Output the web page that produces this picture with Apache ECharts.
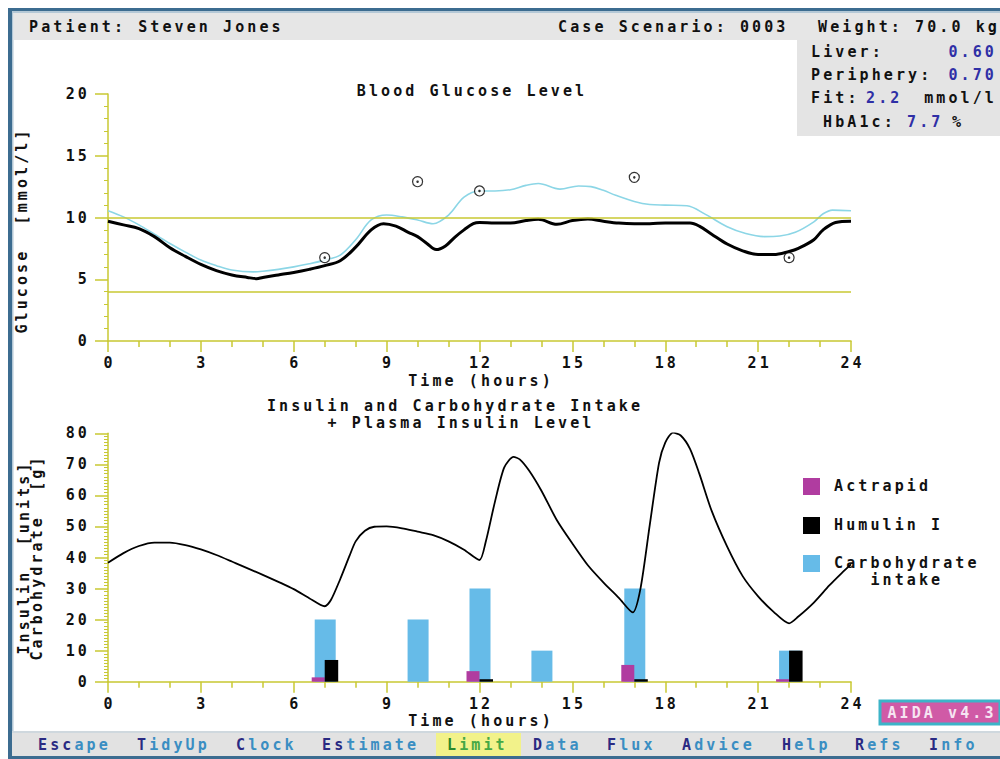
<!DOCTYPE html>
<html>
<head>
<meta charset="utf-8">
<title>AIDA v4.3 – Blood Glucose and Insulin</title>
<style>
  html, body { margin: 0; padding: 0; background: #ffffff; }
  #chart { width: 1000px; height: 759px; }
  /* wide, evenly spaced terminal-style lettering */
  #chart svg text { letter-spacing: 3.1px; white-space: pre; }
</style>
<script src="https://cdn.jsdelivr.net/npm/echarts@6.0.0/dist/echarts.min.js"></script>
</head>
<body>
<div id="chart"></div>
<script>
// ---- Blood glucose (mmol/l) over 24 hours ----
const simHours = [0, 0.5, 1, 1.5, 2, 2.5, 3, 3.5, 4, 4.5, 4.8, 5, 5.5, 6, 6.5, 7, 7.5, 8, 8.5, 8.9, 9.3, 9.7, 10, 10.3, 10.6, 10.9, 11.2, 11.5, 11.8, 12, 12.5, 13, 13.5, 13.9, 14.5, 15, 15.5, 16, 16.5, 17, 17.5, 18, 18.8, 19.1, 19.5, 20, 20.5, 21, 21.5, 22, 22.3, 22.8, 23.1, 23.5, 24];
const simGlucose = [9.7, 9.4, 9.1, 8.45, 7.55, 6.85, 6.2, 5.7, 5.35, 5.15, 5.05, 5.15, 5.35, 5.55, 5.8, 6.1, 6.5, 7.6, 9.0, 9.5, 9.3, 8.8, 8.45, 7.9, 7.4, 7.7, 8.4, 9.0, 9.5, 9.6, 9.55, 9.55, 9.75, 9.85, 9.45, 9.75, 9.88, 9.7, 9.55, 9.5, 9.5, 9.55, 9.55, 9.3, 8.65, 7.85, 7.3, 7.0, 7.0, 7.25, 7.5, 8.2, 9.0, 9.6, 9.7];

const fitHours = [0, 0.5, 1, 1.5, 2, 2.5, 3, 3.5, 4, 4.7, 5, 5.5, 6, 6.5, 7, 7.5, 8, 8.5, 9, 9.5, 10, 10.5, 11, 11.5, 12, 12.5, 13, 13.5, 13.9, 14.6, 15.2, 15.6, 16, 16.4, 17, 17.5, 18, 18.7, 19.3, 20, 20.6, 21.2, 21.7, 22.2, 22.8, 23.1, 23.4, 24];
const fitGlucose = [10.55, 10.05, 9.4, 8.65, 7.9, 7.2, 6.55, 6.1, 5.75, 5.6, 5.65, 5.8, 6.0, 6.25, 6.55, 6.95, 8.2, 9.8, 10.2, 10.05, 9.8, 9.5, 10.2, 11.65, 12.15, 12.15, 12.25, 12.6, 12.75, 12.3, 12.55, 12.5, 12.2, 11.8, 11.3, 11.05, 11.0, 10.95, 10.25, 9.25, 8.7, 8.45, 8.5, 8.8, 9.65, 10.3, 10.6, 10.55];

const readingHours = [7, 10, 12, 17, 22];
const readingGlucose = [6.75, 12.9, 12.15, 13.25, 6.75];

const glucoseLimits = [4, 10];

// ---- Meals, injections and plasma insulin ----
const mealHours = [7, 10, 12, 14, 17, 22];
const carbGrams = [20, 20, 30, 10, 30, 10];

const doseHours = [7, 12, 17, 22];
const actrapidUnits = [1.4, 3.4, 5.4, 0.8];
const humulinUnits = [7, 0.8, 0.8, 10];

const plasmaHours = [0, 0.5, 1, 1.5, 2, 2.5, 3, 3.5, 4, 5, 6, 6.5, 7, 7.2, 7.5, 7.8, 8, 8.3, 8.6, 9, 9.5, 10, 10.5, 11, 11.5, 12, 12.2, 12.5, 12.8, 13.1, 13.3, 13.6, 14, 14.5, 15, 15.5, 16, 16.5, 16.95, 17.2, 17.5, 17.8, 18, 18.25, 18.5, 18.8, 19.1, 19.5, 20, 20.5, 21, 21.5, 22, 22.3, 22.8, 23.3, 23.7, 24];
const plasmaInsulin = [38.3, 41.4, 43.7, 44.8, 44.8, 44.0, 42.6, 40.8, 38.7, 34.4, 29.8, 26.9, 24.3, 26.3, 33, 40.5, 45.2, 48.6, 49.9, 50, 49.4, 48.3, 47.2, 45.2, 42.5, 39.2, 45, 58, 69, 72.4, 71.6, 68, 61.5, 52, 44.5, 37.5, 32, 27, 22.3, 30, 50.5, 70.5, 77, 80.2, 79.3, 75, 67, 55, 43.5, 34, 27.5, 22.5, 18.8, 21, 25.5, 31, 35, 37.8];

// ---- Axis ticks ----
const timeTicks = { min: 0, max: 24, interval: 3 };
const glucoseTicks = { min: 0, max: 20, interval: 5 };
const doseTicks = { min: 0, max: 80, interval: 10 };

// ---- Styling ----
const FONT = '"DejaVu Sans Mono", "Liberation Mono", monospace';
const FS = 15;
const ADV = 0.6021 * FS + 3.1;       // advance of one character incl. spacing
const AXIS_YELLOW = '#c8c832';
const INK = '#111111';
const NAVY = '#2a2a82';
const VALUE_BLUE = '#2f2fa6';
const CARB_BLUE = '#66bbe8';
const ACTRAPID = '#b03ca0';
const HUMULIN = '#000000';

const zip = (xs, ys) => xs.map((x, i) => [x, ys[i]]);

function txt(x, y, text, fill, align, styleExtra) {
  return {
    type: 'text', x: x, y: y, silent: true,
    style: Object.assign({
      text: text, fill: fill || INK,
      fontFamily: FONT, fontSize: FS, fontWeight: 'bold',
      align: align || 'left', textAlign: align || 'left',
      verticalAlign: 'middle', textVerticalAlign: 'middle'
    }, styleExtra || {})
  };
}
function box(x, y, w, h, fill, styleExtra) {
  return {
    type: 'rect', silent: true,
    shape: { x: x, y: y, width: w, height: h },
    style: Object.assign({ fill: fill }, styleExtra || {})
  };
}

const labelStyle = { color: INK, fontFamily: FONT, fontSize: FS, fontWeight: 'bold' };

function timeAxis(gridIndex) {
  return {
    type: 'value', gridIndex: gridIndex,
    min: timeTicks.min, max: timeTicks.max, interval: timeTicks.interval,
    name: 'Time (hours)', nameLocation: 'middle', nameGap: 32,
    nameTextStyle: Object.assign({ padding: [0, 0, 0, 3], lineHeight: 15 }, labelStyle),
    axisLine: { show: true, onZero: false, lineStyle: { color: AXIS_YELLOW, width: 1.5 } },
    axisTick: { show: true, length: 11, lineStyle: { color: AXIS_YELLOW, width: 1.5 } },
    minorTick: { show: true, splitNumber: 3, length: 6, lineStyle: { color: AXIS_YELLOW, width: 1.5 } },
    axisLabel: Object.assign({ margin: 14.5, padding: [0, 0, 0, 3], lineHeight: 15 }, labelStyle),
    splitLine: { show: false }, minorSplitLine: { show: false }
  };
}
function valueAxis(gridIndex, ticks, minorSplit, name, nameGap, padding) {
  return {
    type: 'value', gridIndex: gridIndex,
    min: ticks.min, max: ticks.max, interval: ticks.interval,
    name: name, nameLocation: 'middle', nameGap: nameGap, nameRotate: 90,
    nameTextStyle: Object.assign({ lineHeight: 13.5, padding: padding }, labelStyle),
    axisLine: { show: true, onZero: false, lineStyle: { color: AXIS_YELLOW, width: 1.5 } },
    axisTick: { show: true, length: 13, lineStyle: { color: AXIS_YELLOW, width: 1.5 } },
    minorTick: { show: true, splitNumber: minorSplit, length: 4, lineStyle: { color: AXIS_YELLOW, width: 1 } },
    axisLabel: Object.assign({ margin: 18 }, labelStyle),
    splitLine: { show: false }, minorSplitLine: { show: false }
  };
}

function doseBars(name, hours, values, color, offsetPx, widthPx, z) {
  return {
    type: 'custom', name: name, xAxisIndex: 1, yAxisIndex: 1, z: z, clip: false, silent: true,
    data: zip(hours, values), encode: { x: 0, y: 1 },
    renderItem: function (params, api) {
      const t = api.value(0), v = api.value(1);
      const top = api.coord([t, v]);
      const base = api.coord([t, 0]);
      return {
        type: 'rect',
        shape: { x: base[0] + offsetPx, y: top[1], width: widthPx, height: base[1] - top[1] },
        style: { fill: color }
      };
    }
  };
}

// ---- Surrounding screen: frame, header, info panel, menu bar ----
const headerItems = [
  txt(29, 27, 'Patient: Steven Jones'),
  txt(558, 27, 'Case Scenario: 0003'),
  txt(1000, 27, 'Weight: 70.0 kg', INK, 'right')
];
const infoItems = [
  txt(811, 52, 'Liver:'), txt(997, 52, '0.60', VALUE_BLUE, 'right'),
  txt(811, 75, 'Periphery:'), txt(997, 75, '0.70', VALUE_BLUE, 'right'),
  txt(811, 98, 'Fit:'), txt(866, 98, '2.2', VALUE_BLUE), txt(997, 98, 'mmol/l', INK, 'right'),
  txt(823, 122, 'HbA1c:'), txt(907, 122, '7.7', VALUE_BLUE), txt(952, 122, '%')
];

const menuWords = [['Esc', 'ape'], ['T', 'idyUp'], ['C', 'lock'], ['Es', 'timate'], ['L', 'imit'], ['D', 'ata'], ['F', 'lux'], ['A', 'dvice'], ['H', 'elp'], ['R', 'efs'], ['I', 'nfo']];
const menuLeft = [38, 137, 236, 322, 447, 533, 607, 682, 782, 855, 929];
const menuItems = [];
menuWords.forEach(function (w, i) {
  const active = w[0] === 'L';
  menuItems.push(txt(menuLeft[i], 745, w[0], active ? '#2b8a2b' : NAVY));
  menuItems.push(txt(menuLeft[i] + w[0].length * ADV, 745, w[1], active ? '#45a845' : '#3a8ec2'));
});

const legendEntries = [['Actrapid', ACTRAPID, 486], ['Humulin I', HUMULIN, 525], ['Carbohydrate\n   intake', CARB_BLUE, 563]];
const legendItems = [];
legendEntries.forEach(function (e) {
  legendItems.push(box(803, e[2] - 8, 17, 17, e[1]));
  legendItems.push(txt(834, e[2] - 9.25, e[0], INK, 'left', { verticalAlign: 'top', textVerticalAlign: 'top', lineHeight: 17.5 }));
});

const graphicItems = [
  box(8, 8, 992, 3, '#3c6c90'),
  box(8, 11, 992, 2, '#b4c8d6'),
  box(8, 8, 4, 751, '#3c6c90'),
  box(12, 13, 1.5, 746, '#b4c8d6'),
  box(13.5, 13, 986.5, 27, '#e6e6e6'),
  box(797, 40, 203, 96, '#e4e4e4'),
  box(12, 731, 988, 2, '#cfd8de'),
  box(12, 733, 988, 23, '#e2e2e2'),
  box(436, 733, 85, 23, '#f2f28a'),
  box(8, 756, 992, 3, '#3c6c90'),
  box(880, 701, 120, 23, '#d05aa6', { stroke: '#3cb4c8', lineWidth: 3 }),
  txt(942, 713, 'AIDA v4.3', '#f6e4f2', 'center'),
  txt(472, 91, 'Blood Glucose Level', INK, 'center'),
  txt(455, 405.5, 'Insulin and Carbohydrate Intake', INK, 'center'),
  txt(461, 423, '+ Plasma Insulin Level', INK, 'center')
].concat(headerItems, infoItems, menuItems, legendItems);

const option = {
  animation: false,
  backgroundColor: '#ffffff',
  grid: [
    { left: 108, right: 149, top: 94, bottom: 418, outerBoundsMode: 'none' },
    { left: 108, right: 149, top: 433.3, bottom: 77.3, outerBoundsMode: 'none' }
  ],
  xAxis: [timeAxis(0), timeAxis(1)],
  yAxis: [
    valueAxis(0, glucoseTicks, 5, 'Glucose  [mmol/l]', 79, [0, 26, 0, 0]),
    valueAxis(1, doseTicks, 10, 'Insulin  [units]\nCarbohydrate  [g]', 64, 0)
  ],
  series: [
    {
      type: 'line', name: 'Fitted glucose', xAxisIndex: 0, yAxisIndex: 0,
      data: zip(fitHours, fitGlucose), showSymbol: false, smooth: 0.35,
      lineStyle: { color: '#8cd6e6', width: 1.6 }, silent: true, z: 2,
      markLine: {
        silent: true, symbol: ['none', 'none'], label: { show: false },
        emphasis: { disabled: true },
        lineStyle: { color: AXIS_YELLOW, width: 1.5, type: 'solid' },
        data: glucoseLimits.map(function (v) { return { yAxis: v }; })
      }
    },
    {
      type: 'line', name: 'Simulated glucose', xAxisIndex: 0, yAxisIndex: 0,
      data: zip(simHours, simGlucose), showSymbol: false, smooth: 0.35,
      lineStyle: { color: '#000000', width: 3 }, silent: true, z: 3
    },
    {
      type: 'scatter', name: 'Measured glucose', xAxisIndex: 0, yAxisIndex: 0,
      data: zip(readingHours, readingGlucose), symbol: 'circle', symbolSize: 10,
      itemStyle: { color: '#ffffff', borderColor: '#000000', borderWidth: 1.2 }, silent: true, z: 4
    },
    {
      type: 'scatter', name: 'Measured glucose centre', xAxisIndex: 0, yAxisIndex: 0,
      data: zip(readingHours, readingGlucose), symbol: 'circle', symbolSize: 2.5,
      itemStyle: { color: '#000000' }, silent: true, z: 5
    },
    doseBars('Carbohydrate intake', mealHours, carbGrams, CARB_BLUE, -10, 21, 2),
    doseBars('Actrapid', doseHours, actrapidUnits, ACTRAPID, -13, 13, 3),
    doseBars('Humulin I', doseHours, humulinUnits, HUMULIN, 0, 13.5, 3),
    {
      type: 'line', name: 'Plasma insulin', xAxisIndex: 1, yAxisIndex: 1,
      data: zip(plasmaHours, plasmaInsulin), showSymbol: false, smooth: 0.25,
      lineStyle: { color: '#000000', width: 1.8 }, silent: true, z: 4
    }
  ],
  graphic: { elements: graphicItems }
};

const chart = echarts.init(document.getElementById('chart'), null, { renderer: 'svg', width: 1000, height: 759 });
chart.setOption(option);
</script>
</body>
</html>
